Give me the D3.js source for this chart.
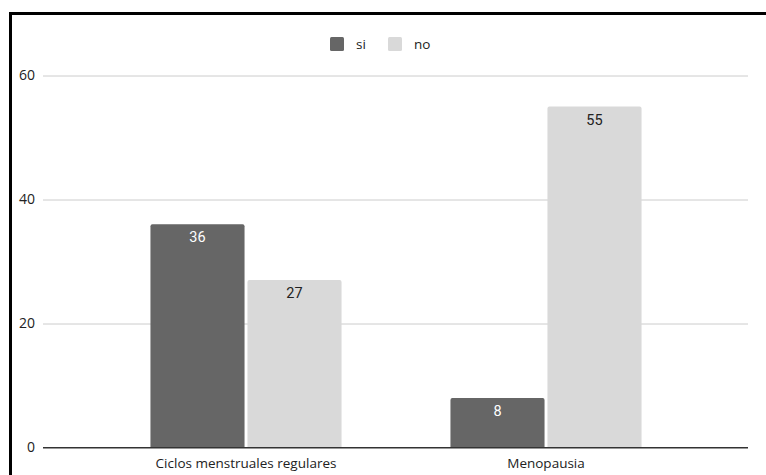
<!DOCTYPE html>
<html>
<head>
<meta charset="utf-8">
<script src="https://cdn.jsdelivr.net/npm/d3@7"></script>
<style>
  html, body { margin: 0; padding: 0; background: #fff; }
  svg { display: block; }
</style>
</head>
<body>
<svg id="chart" width="766" height="475"></svg>
<script>
// Categories, series and values
const categories = ["Ciclos menstruales regulares", "Menopausia"];
const seriesNames = ["si", "no"];
const siValues = [36, 8];
const noValues = [27, 55];
const yTicks = [0, 20, 40, 60];

const colors = { si: "#666666", no: "#d9d9d9" };
const labelColors = { si: "#ffffff", no: "#222222" };

const rows = categories.map((c, i) => ({ category: c, si: siValues[i], no: noValues[i] }));

const svg = d3.select("#chart");
const W = 766, H = 475;

// Frame around the chart
svg.append("rect")
  .attr("x", 10.5).attr("y", 13.5)
  .attr("width", W + 20).attr("height", H + 20)
  .attr("fill", "#fff")
  .attr("stroke", "#000")
  .attr("stroke-width", 3);

const plot = { left: 43, right: 748, top: 75.5, bottom: 447.5 };

const y = d3.scaleLinear().domain([0, 60]).range([plot.bottom, plot.top]);

const x0 = d3.scaleBand()
  .domain(categories)
  .range([96, 696])
  .paddingInner(0.363)
  .paddingOuter(0.1815);

const x1 = d3.scaleBand()
  .domain(seriesNames)
  .range([0, x0.bandwidth()])
  .paddingInner(0.03);

const font = "'Open Sans', 'Noto Sans', sans-serif";

// Gridlines and y tick labels
const yAxis = d3.axisLeft(y)
  .tickValues(yTicks)
  .tickSize(-(plot.right - plot.left))
  .tickPadding(8)
  .tickFormat(d3.format("d"));

const gy = svg.append("g")
  .attr("transform", `translate(${plot.left},0)`)
  .call(yAxis);
gy.select(".domain").remove();
gy.selectAll(".tick line")
  .attr("stroke", d => d === 0 ? "#333" : "#cccccc")
  .attr("stroke-width", 1);
gy.selectAll(".tick text")
  .attr("fill", "#222")
  .style("font-family", font)
  .style("font-size", "14px");

// Bars
const groups = svg.append("g").selectAll("g")
  .data(rows)
  .join("g")
  .attr("transform", d => `translate(${x0(d.category)},0)`);

const cells = groups.selectAll("g")
  .data(d => seriesNames.map(s => ({ key: s, value: d[s] })))
  .join("g");

cells.append("path")
  .attr("fill", d => colors[d.key])
  .attr("d", d => {
    const bx = x1(d.key), bw = x1.bandwidth();
    const top = y(d.value), bot = y(0), r = 2;
    return `M${bx},${bot} V${top + r} Q${bx},${top} ${bx + r},${top} H${bx + bw - r} Q${bx + bw},${top} ${bx + bw},${top + r} V${bot} Z`;
  });

cells.append("text")
  .attr("x", d => x1(d.key) + x1.bandwidth() / 2)
  .attr("y", d => y(d.value) + 18)
  .attr("text-anchor", "middle")
  .attr("fill", d => labelColors[d.key])
  .style("font-family", "Roboto, 'Liberation Sans', Arial, sans-serif")
  .style("font-size", "14.5px")
  .text(d => d.value);

// Baseline
svg.append("line")
  .attr("x1", plot.left).attr("x2", plot.right)
  .attr("y1", y(0)).attr("y2", y(0))
  .attr("stroke", "#333").attr("stroke-width", 1);

// Category labels
const xAxis = d3.axisBottom(x0).tickSize(0).tickPadding(11);
const gx = svg.append("g")
  .attr("transform", `translate(0,${plot.bottom})`)
  .call(xAxis);
gx.select(".domain").remove();
gx.selectAll(".tick text")
  .attr("fill", "#222")
  .style("font-family", font)
  .style("font-size", "13.5px");

// Legend
const legendItems = [
  { key: "si", x: 330 },
  { key: "no", x: 388 }
];
const legend = svg.append("g").selectAll("g")
  .data(legendItems)
  .join("g")
  .attr("transform", d => `translate(${d.x},37)`);
legend.append("rect")
  .attr("width", 14).attr("height", 14)
  .attr("rx", 1.5)
  .attr("fill", d => colors[d.key]);
legend.append("text")
  .attr("x", 26).attr("y", 11.5)
  .attr("fill", "#222")
  .style("font-family", font)
  .style("font-size", "13.5px")
  .text(d => d.key);
</script>
</body>
</html>
